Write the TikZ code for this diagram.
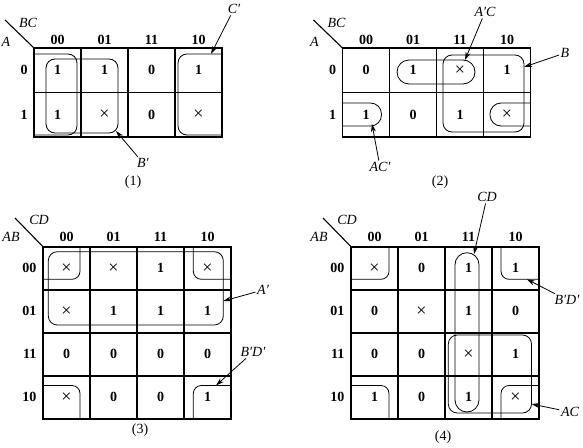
\documentclass[tikz,border=0pt]{standalone}
\usepackage{fontspec}
\setmainfont{Liberation Serif}
\usetikzlibrary{arrows.meta}
\newcommand{\dc}{{\normalfont\fontsize{18}{18}\selectfont ×}}

\begin{document}
\begin{tikzpicture}[x=1pt,y=-1pt,
    grid/.style={line width=1.6pt},
    ring/.style={line width=0.8pt,rounded corners=9pt},
    corner/.style={line width=0.8pt,rounded corners=8pt},
    pointer/.style={->,>={Stealth[length=8pt,width=5pt]},line width=0.8pt},
    val/.style={font=\fontsize{14}{16}\selectfont\bfseries},
    var/.style={font=\fontsize{14}{16}\selectfont\itshape,inner sep=1.5pt},
    tag/.style={font=\fontsize{14}{16}\selectfont}]
\useasboundingbox (0,0) rectangle (583,447);

% (1)
\begin{scope}
\draw[grid] (34,48) rectangle (222,137);
\draw[grid] (81,48) -- (81,137) (128,48) -- (128,137) (175,48) -- (175,137) (34,92.5) -- (222,92.5);
\draw[line width=1.1pt] (5,20) -- (34,48);
\node[var] (bc1) at (28,23) {BC};
\node[var] (a1) at (6,42) {A};
\foreach \t [count=\c] in {00,01,11,10}
  \node[val] (h1-\c) at (10.5+47*\c,40) {\t};
\node[val] (r1-1) at (24,70.25) {0};
\node[val] (r1-2) at (24,114.75) {1};
\foreach \row [count=\r] in {{1,1,0,1},{1,\dc,0,\dc}}
  \foreach \v [count=\c] in \row
    \node[val] (v1-\r-\c) at (10.5+47*\c,25.75+44.5*\r) {\v};
\draw[ring] (34,54) -- (77,54) -- (77,135) -- (34,135);
\draw[ring] (222,54) -- (178,54) -- (178,135) -- (222,135);
\draw[ring] (46,59) rectangle (118,133);
\node[var] (c1) at (234,9) {C′};
\coordinate (c1tip) at (211,54);
\draw[pointer] (c1) -- (c1tip);
\node[var] (b1) at (143,163) {B′};
\coordinate (b1tip) at (116,131);
\draw[pointer] (b1) -- (b1tip);
\node[tag] (n1) at (133,182) {(1)};
\end{scope}

% (2)
\begin{scope}[xshift=308.5pt]
\draw[grid] (34,48) rectangle (222,137);
\draw[grid] (81,48) -- (81,137) (128,48) -- (128,137) (175,48) -- (175,137) (34,92.5) -- (222,92.5);
\draw[line width=1.1pt] (5,20) -- (34,48);
\node[var] (bc2) at (28,23) {BC};
\node[var] (a2) at (6,42) {A};
\foreach \t [count=\c] in {00,01,11,10}
  \node[val] (h2-\c) at (10.5+47*\c,40) {\t};
\node[val] (r2-1) at (24,70.25) {0};
\node[val] (r2-2) at (24,114.75) {1};
\foreach \row [count=\r] in {{0,1,\dc,1},{1,0,1,\dc}}
  \foreach \v [count=\c] in \row
    \node[val] (v2-\r-\c) at (10.5+47*\c,25.75+44.5*\r) {\v};
\draw[ring,rounded corners=12pt] (88.5,60) rectangle (166.5,84);
\draw[ring] (134.5,55) rectangle (215.5,132);
\draw[ring,rounded corners=11pt] (34,103) -- (73,103) -- (73,126) -- (34,126);
\draw[ring,rounded corners=11pt] (222,103) -- (181.5,103) -- (181.5,126) -- (222,126);
\node[var] (ac2) at (176.5,12) {A′C};
\coordinate (ac2tip) at (156.5,60);
\draw[pointer] (ac2) -- (ac2tip);
\node[var] (b2) at (256.5,53) {B};
\coordinate (b2tip) at (215.5,67);
\draw[pointer] (b2) -- (b2tip);
\node[var] (acn2) at (71.5,167) {AC′};
\coordinate (acn2tip) at (63.5,124);
\draw[pointer] (acn2) -- (acn2tip);
\node[tag] (n2) at (131.5,182) {(2)};
\end{scope}

% (3)
\begin{scope}
\draw[grid] (43,246.7) rectangle (231,418.7);
\draw[grid] (90,246.7) -- (90,418.7) (137,246.7) -- (137,418.7) (184,246.7) -- (184,418.7);
\draw[grid] (43,289.7) -- (231,289.7) (43,332.7) -- (231,332.7) (43,375.7) -- (231,375.7);
\draw[line width=1.1pt] (15,218) -- (43,246.7);
\node[var] (cd3) at (39,220) {CD};
\node[var] (ab3) at (11,237) {AB};
\foreach \t [count=\c] in {00,01,11,10} {
  \node[val] (h3-\c) at (19.5+47*\c,237) {\t};
  \node[val,anchor=east] (r3-\c) at (40,225.2+43*\c) {\t};
}
\foreach \row [count=\r] in {{\dc,\dc,1,\dc},{\dc,1,1,1},{0,0,0,0},{\dc,0,0,1}}
  \foreach \v [count=\c] in \row
    \node[val] (v3-\r-\c) at (19.5+47*\c,225.2+43*\r) {\v};
\draw[ring] (48.3,251.7) rectangle (223.3,325);
\draw[corner] (43,279.3) -- (80,279.3) -- (80,246.7);
\draw[corner] (231,279.3) -- (193.3,279.3) -- (193.3,246.7);
\draw[corner] (43,385.5) -- (80,385.5) -- (80,418.7);
\draw[corner] (231,385.5) -- (193.3,385.5) -- (193.3,418.7);
\node[var] (an3) at (263,290) {A′};
\coordinate (an3tip) at (223.3,301);
\draw[pointer] (an3) -- (an3tip);
\node[var] (bd3) at (253,352) {B′D′};
\coordinate (bd3tip) at (216,385.5);
\draw[pointer] (bd3) -- (bd3tip);
\node[tag] (n3) at (140,430) {(3)};
\end{scope}

% (4)
\begin{scope}[xshift=308pt]
\draw[grid] (43,246.7) rectangle (231,418.7);
\draw[grid] (90,246.7) -- (90,418.7) (137,246.7) -- (137,418.7) (184,246.7) -- (184,418.7);
\draw[grid] (43,289.7) -- (231,289.7) (43,332.7) -- (231,332.7) (43,375.7) -- (231,375.7);
\draw[line width=1.1pt] (15,218) -- (43,246.7);
\node[var] (cd4) at (39,220) {CD};
\node[var] (ab4) at (11,237) {AB};
\foreach \t [count=\c] in {00,01,11,10} {
  \node[val] (h4-\c) at (19.5+47*\c,237) {\t};
  \node[val,anchor=east] (r4-\c) at (40,225.2+43*\c) {\t};
}
\foreach \row [count=\r] in {{\dc,0,1,1},{0,\dc,1,0},{0,0,\dc,1},{1,0,1,\dc}}
  \foreach \v [count=\c] in \row
    \node[val] (v4-\r-\c) at (19.5+47*\c,225.2+43*\r) {\v};
\draw[ring,rounded corners=12pt] (147,252.7) rectangle (171,412);
\draw[ring] (140.3,335) rectangle (223.5,413);
\draw[corner] (43,279.3) -- (81,279.3) -- (81,246.7);
\draw[corner] (231,279.3) -- (193,279.3) -- (193,246.7);
\draw[corner] (43,385.5) -- (81,385.5) -- (81,418.7);
\draw[corner] (231,385.5) -- (193,385.5) -- (193,418.7);
\node[var] (cd4l) at (179,197) {CD};
\coordinate (cd4tip) at (166,254);
\draw[pointer] (cd4l) -- (cd4tip);
\node[var] (bd4) at (259,300) {B′D′};
\coordinate (bd4tip) at (219,279.3);
\draw[pointer] (bd4) -- (bd4tip);
\node[var] (ac4) at (262,412) {AC};
\coordinate (ac4tip) at (223.5,404);
\draw[pointer] (ac4) -- (ac4tip);
\node[tag] (n4) at (135,437) {(4)};
\end{scope}
\end{tikzpicture}
\end{document}
